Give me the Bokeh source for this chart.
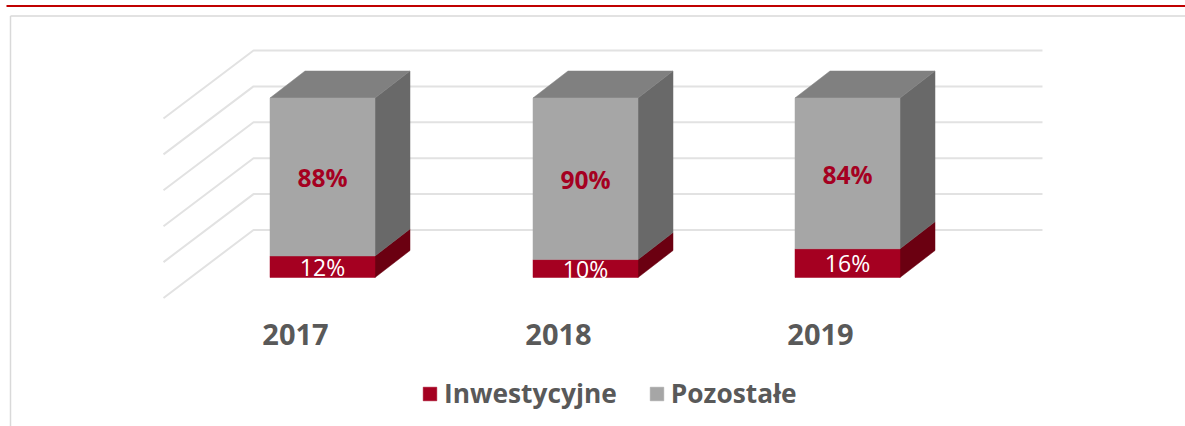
from bokeh.plotting import figure
from bokeh.embed import file_html
from bokeh.resources import INLINE
from bokeh.models import Legend, LegendItem, Range1d
from bokeh.core.properties import value

years = ["2017", "2018", "2019"]
inwestycyjne = [12, 10, 16]
pozostale = [88, 90, 84]
series_names = ["Inwestycyjne", "Pozostałe"]
grid_levels = [0, 20, 40, 60, 80, 100]

W, H = 1185, 426
PX_PER_PCT = 1.795
BASE_Y = 277            # pixel row of 0 % on the front plane
CENTERS = [322, 585, 847]
HALF = 52.5
DX, DY = 35, 27         # bar depth
WALL_DY = 47.5          # back wall rise over the front plane
WALL_L, WALL_R = 253, 1042
FLOOR_DX, FLOOR_DY = 90, 68

def pct(px):
    return px / PX_PER_PCT

def rows(px_row):
    return (BASE_Y - px_row) / PX_PER_PCT

p = figure(width=W, height=H, output_backend="svg", toolbar_location=None,
           x_range=Range1d(0, W), y_range=Range1d(rows(H), rows(0)),
           min_border=0, outline_line_color=None)
p.margin = (0, 0, 0, 0)
p.xaxis.visible = False
p.yaxis.visible = False
p.grid.visible = False
p.background_fill_color = "white"

# page furniture
p.segment([6], [rows(5.5)], [W], [rows(5.5)], line_color="#c00000", line_width=2)
p.segment([10, 10], [rows(15.5), rows(15.5)], [W, 10], [rows(15.5), rows(H)],
          line_color="#d9d9d9", line_width=1.5)

# walls
for g in grid_levels:
    y = rows(BASE_Y - WALL_DY) + g
    xs = [WALL_L - FLOOR_DX, WALL_L, WALL_R]
    ys = [y - pct(FLOOR_DY), y, y]
    p.line(xs, ys, line_color="#e2e2e2", line_width=2)

depth_y = pct(DY)
front = {}
for name, vals, bottoms, fc, sc, tc in [
    (series_names[0], inwestycyjne, [0, 0, 0], "#a50021", "#6b0011", None),
    (series_names[1], pozostale, inwestycyjne, "#a6a6a6", "#696969", "#808080"),
]:
    tops = [b + v for b, v in zip(bottoms, vals)]
    left = [c - HALF for c in CENTERS]
    right = [c + HALF for c in CENTERS]
    for r, b, t in zip(right, bottoms, tops):
        p.patch([r, r + DX, r + DX, r], [b, b + depth_y, t + depth_y, t],
                fill_color=sc, line_color=sc, line_width=0.5)
    if tc:
        for l, r, t in zip(left, right, tops):
            p.patch([l, r, r + DX, l + DX], [t, t, t + depth_y, t + depth_y],
                    fill_color=tc, line_color=tc, line_width=0.5)
    front[name] = p.quad(left=left, right=right, bottom=bottoms, top=tops,
                         fill_color=fc, line_color=fc, line_width=0.5)

p.text(CENTERS, [v / 2 for v in inwestycyjne], text=[f"{v}%" for v in inwestycyjne],
       text_color="white", text_font=value("Open Sans"), text_font_size="23px",
       text_align="center", text_baseline="middle")
p.text(CENTERS, [i + v / 2 - 0.5 for i, v in zip(inwestycyjne, pozostale)],
       text=[f"{v}%" for v in pozostale],
       text_color="#a50021", text_font=value("Open Sans"), text_font_style="bold",
       text_font_size="24.5px", text_align="center", text_baseline="middle")
p.text([c - 27 for c in CENTERS], [rows(334)] * 3, text=years,
       text_color="#595959", text_font=value("Open Sans"), text_font_style="bold",
       text_font_size="29px", text_align="center", text_baseline="middle")

legend = Legend(items=[LegendItem(label=n, renderers=[front[n]]) for n in series_names],
                orientation="horizontal", location=(415, 9),
                background_fill_alpha=0, border_line_alpha=0,
                glyph_width=17, glyph_height=17, label_standoff=6, spacing=31,
                label_text_font="Open Sans", label_text_font_style="bold",
                label_text_font_size="26.3px", label_text_color="#595959",
                padding=6, margin=0)
p.add_layout(legend, "center")

open("out.html", "w").write(file_html(p, INLINE))
